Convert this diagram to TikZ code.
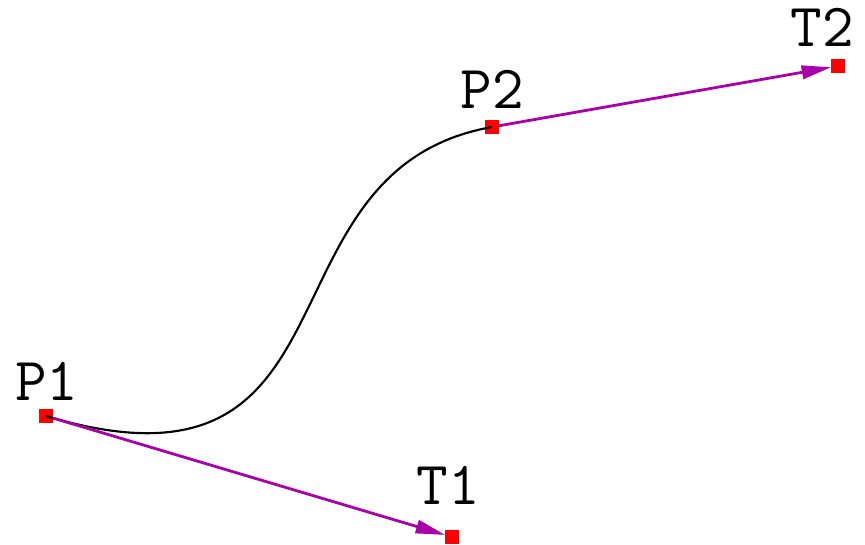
\documentclass[tikz,border=0pt]{standalone}
\usepackage{fontspec}
\usetikzlibrary{arrows.meta}
\definecolor{tangpurple}{RGB}{170,0,170}
\definecolor{ptred}{RGB}{255,0,0}
\begin{document}
\begin{tikzpicture}[x=0.75pt,y=-0.75pt,
  pt/.style={fill=ptred,draw=none,minimum size=10.5pt,inner sep=0pt,outer sep=0pt,rectangle},
  lab/.style={font=\ttfamily\fontsize{46}{46}\selectfont,inner sep=0pt},
  tangent/.style={draw=tangpurple,line width=2.1pt,-{Triangle[length=22pt,width=10pt]}},
  curveline/.style={draw=black,line width=1.6pt}]
\useasboundingbox (0,0) rectangle (865,544);
\node[pt] (p1) at (46,416) {};
\node[pt] (p2) at (492,127) {};
\node[pt] (t1) at (452,537) {};
\node[pt] (t2) at (838,66) {};
\coordinate (c1) at (371,513);
\coordinate (c2) at (250,170);
\draw[curveline] (p1.center) .. controls (c1) and (c2) .. (p2.center);
\draw[tangent] (p1) -- (t1);
\draw[tangent] (p2) -- (t2);
\node[lab] (lp1) at (47,381) {P1};
\node[lab] (lp2) at (492,89) {P2};
\node[lab] (lt1) at (448,485) {T1};
\node[lab] (lt2) at (822,27) {T2};
\end{tikzpicture}
\end{document}
